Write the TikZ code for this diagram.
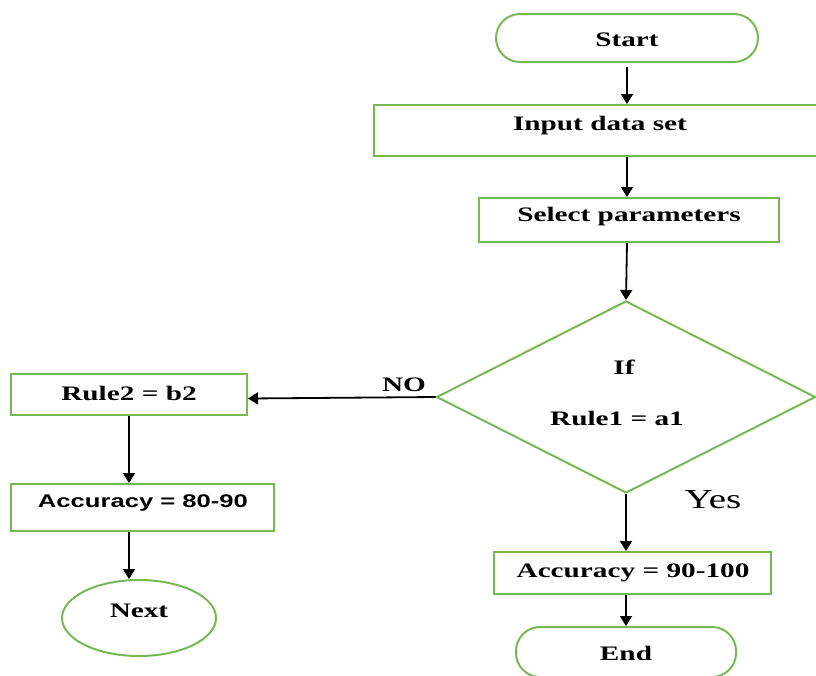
\documentclass[tikz,border=0pt]{standalone}
\usepackage{fontspec}
\setmainfont{Liberation Serif}[FakeStretch=1.42]
\newfontfamily\sansx{Liberation Sans}[FakeStretch=1.4]
\usetikzlibrary{shapes.geometric,arrows.meta}
\definecolor{lgreen}{RGB}{120,184,84}
\tikzset{
  shp/.style={draw=lgreen, line width=2pt, inner sep=0pt},
  box/.style={shp, rectangle},
  stad/.style={shp, rectangle, rounded corners=24pt},
  txt/.style={font=\fontsize{20.6}{24}\selectfont\bfseries, inner sep=0pt},
  stxt/.style={font=\sansx\fontsize{18.3}{22}\selectfont\bfseries, inner sep=0pt},
  arr/.style={line width=1.8pt, -{Triangle[length=10pt,width=12pt]}},
}
\begin{document}
\begin{tikzpicture}[x=1pt,y=-1pt]
\useasboundingbox (0,0) rectangle (816,675);
\clip (0,0) rectangle (816,675);
% shapes
\node[stad, minimum width=262pt, minimum height=48pt] (start) at (627,38) {};
\node[txt] (startt) at (627,40) {Start};
\node[box, minimum width=446pt, minimum height=51pt] (input) at (597,130.5) {};
\node[txt] (inputt) at (600,126) {Input data set};
\node[box, minimum width=300pt, minimum height=44pt] (sel) at (629,220) {};
\node[txt] (selt) at (629,217) {Select parameters};
\node[shp, diamond, minimum width=379pt, minimum height=192pt] (dec) at (626,397) {};
\node[txt] (ift) at (624,367) {If};
\node[txt] (rule1) at (617,418) {Rule1 = a1};
\node[box, minimum width=236pt, minimum height=41pt] (rule2) at (129,394.5) {};
\node[txt] (rule2t) at (129,393) {Rule2 = b2};
\node[box, minimum width=263pt, minimum height=47pt] (acc80) at (142.5,507.5) {};
\node[stxt] (acc80t) at (143,503) {Accuracy = 80-90};
\node[shp, ellipse, minimum width=154pt, minimum height=76pt] (next) at (139,618) {};
\node[txt] (nextt) at (139,611) {Next};
\node[box, minimum width=277pt, minimum height=42pt] (acc100) at (632.5,573) {};
\node[txt] (acc100t) at (633,573) {Accuracy = 90-100};
\node[stad, minimum width=220pt, minimum height=50pt] (end) at (626,652) {};
\node[txt] (endt) at (626,653) {End};
% labels
\node[txt] (no) at (404,385) {NO};
\node[font=\fontsize{27.5}{32}\selectfont, inner sep=0pt] (yes) at (713,500) {Yes};
% connectors
\draw[arr] ([yshift=-4pt]start.south) -- (start.south |- input.north);
\draw[arr] ([xshift=30pt]input.south) -- ([xshift=30pt]input.south |- sel.north);
\draw[arr] ([xshift=-2pt]sel.south) -- (dec.north);
\draw[arr] (dec.west) -- ([yshift=-4pt]rule2.east);
\draw[arr] (rule2.south) -- (rule2.south |- acc80.north);
\draw[arr] (rule2.south |- acc80.south) -- (rule2.south |- next.north);
\draw[arr] (dec.south) -- (dec.south |- acc100.north);
\draw[arr] (dec.south |- acc100.south) -- (end.north);
\end{tikzpicture}
\end{document}
